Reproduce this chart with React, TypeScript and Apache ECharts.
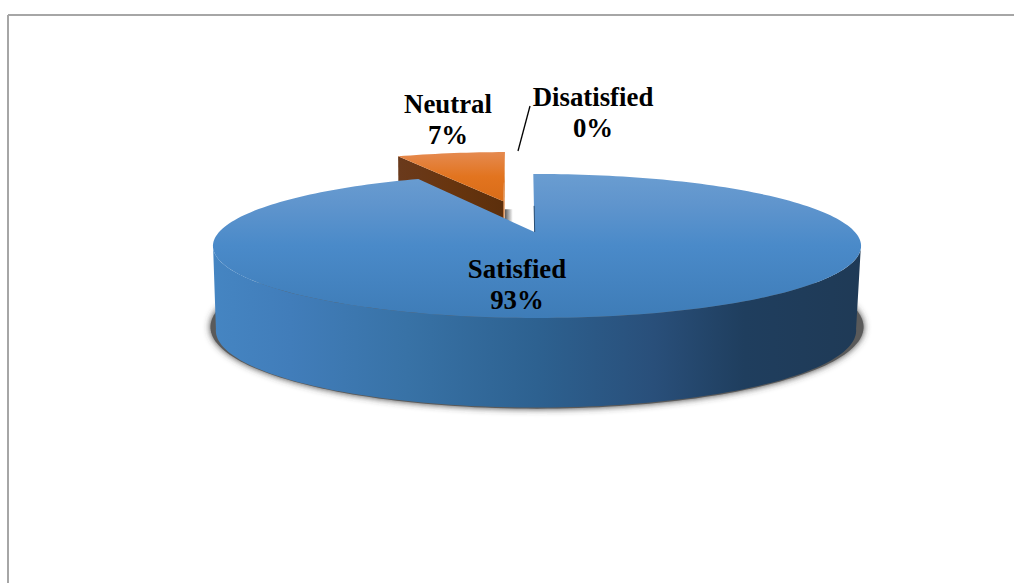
import React, { useEffect, useRef } from "react";
import * as echarts from "echarts";

// Slices, clockwise from the top of the disc.
const categories = ["Satisfied", "Neutral", "Disatisfied"];
const shares = [93, 7, 0];

const labelPositions = [
  { x: 517, y: 284 },
  { x: 448, y: 119 },
  { x: 593, y: 112 },
];
const leader = { x1: 530, y1: 106, x2: 518, y2: 151 };

// Perspective of the disc: pivot on the page and the projective terms of its plane.
const PIVOT_X = 537;
const PIVOT_Y = 232;
const SCALE_X = 317.9;
const SCALE_Y = 69.3;
const TILT = -0.194;
const ROTATION = -0.8;
const PIVOT_U = -0.008;
const EXPLODE = 0.5;
const BOTTOM_X = 536;
const BOTTOM_Y = 330.5;
const BOTTOM_SX = 0.988;
const BOTTOM_SY = 1.07;
const ELLIPSE_MID = 14;

const total = shares.reduce((a, b) => a + b, 0);
const sliceStart = (i: number) =>
  ROTATION + (shares.slice(0, i).reduce((a, b) => a + b, 0) / total) * 360;
const sliceEnd = (i: number) => sliceStart(i) + (shares[i] / total) * 360;

type Pt = [number, number];

// Disc-plane coordinates to page coordinates, on the top face.
const project = (u: number, v: number): Pt => {
  const w = 1 + TILT * v;
  return [PIVOT_X + (SCALE_X * u) / w, PIVOT_Y + (SCALE_Y * v) / w];
};

// The same point on the lower rim of the wall.
const projectLow = (u: number, v: number): Pt => {
  const [x, y] = project(u, v);
  return [
    BOTTOM_X + BOTTOM_SX * (x - PIVOT_X),
    BOTTOM_Y + BOTTOM_SY * (y - PIVOT_Y - ELLIPSE_MID),
  ];
};

const rim = (deg: number, du = 0, dv = 0, fn = project): Pt => {
  const r = (deg * Math.PI) / 180;
  return fn(Math.sin(r) + du, -Math.cos(r) + dv);
};

const arc = (from: number, to: number, du = 0, dv = 0, fn = project): Pt[] => {
  const n = Math.max(2, Math.ceil(Math.abs(to - from) / 1.5));
  const pts: Pt[] = [];
  for (let i = 0; i <= n; i++) pts.push(rim(from + ((to - from) * i) / n, du, dv, fn));
  return pts;
};

const vertical = (stops: [number, string][]) => ({
  type: "linear" as const, x: 0, y: 0, x2: 0, y2: 1, global: false,
  colorStops: stops.map(([offset, color]) => ({ offset, color })),
});
const horizontal = (stops: [number, string][]) => ({
  type: "linear" as const, x: 0, y: 0, x2: 1, y2: 0, global: false,
  colorStops: stops.map(([offset, color]) => ({ offset, color })),
});

const poly = (points: Pt[], style: Record<string, unknown>) => ({
  type: "polygon", shape: { points }, style,
});

const labelFor = (i: number) => ({
  type: "text",
  z2: 20,
  style: {
    text: `${categories[i]}\n${shares[i]}%`,
    x: labelPositions[i].x,
    y: labelPositions[i].y,
    align: "center",
    verticalAlign: "middle",
    fontFamily: "'Liberation Serif', serif",
    fontWeight: "bold",
    fontSize: 26.8,
    lineHeight: 31,
    fill: "#000000",
  },
});

const drawSatisfied = (i: number) => {
  const a0 = sliceStart(i);
  const a1 = sliceEnd(i);
  const apex = project(PIVOT_U, 0);
  const start = rim(a0);
  // Cast shadow: a core kept just inside its outline, its soft blur showing round the rim.
  const shadow = arc(0, 360, 0, 0, (u, v) => {
    const [x, y] = projectLow(u, v);
    return [PIVOT_X + (x - BOTTOM_X) * 1.02, 327 + (y - BOTTOM_Y) * 1.06] as Pt;
  });
  const wall = [...arc(100, 260), ...arc(260, 100, 0, 0, projectLow)];
  const notch: Pt[] = [
    [apex[0] + 0.2, apex[1]],
    [apex[0] + (start[0] - apex[0]) * 0.45 + 0.2, apex[1] + (start[1] - apex[1]) * 0.45],
  ];
  return [
    poly(shadow, { fill: "#5a5a5a", shadowBlur: 7, shadowColor: "#3a3a3a" }),
    poly(wall, {
      fill: horizontal([
        [0, "#4585c2"],
        [0.12, "#417dba"],
        [0.3, "#3872a6"],
        [0.5, "#2d6190"],
        [0.68, "#294f7a"],
        [0.82, "#1f3e5e"],
        [1, "#1f3a56"],
      ]),
    }),
    poly([apex, ...arc(a0, a1)], {
      fill: vertical([
        [0, "#6a9dd1"],
        [0.2, "#6095cd"],
        [0.5, "#4a8ac9"],
        [1, "#3e7cb7"],
      ]),
    }),
    { type: "polyline", shape: { points: notch }, style: { stroke: "#2a4f75", lineWidth: 1, fill: "none" } },
    labelFor(i),
  ];
};

const drawNeutral = (i: number) => {
  const a0 = sliceStart(i);
  const a1 = sliceEnd(i);
  const mid = (((a0 + a1) / 2) * Math.PI) / 180;
  const du = EXPLODE * Math.sin(mid);
  const dv = -EXPLODE * Math.cos(mid);
  const apex = project(du, dv);
  const apexLow = projectLow(du, dv);
  const outerA = rim(a0, du, dv);
  const outerALow = rim(a0, du, dv, projectLow);
  const outerB = rim(a1, du, dv);
  const outerBLow = rim(a1, du, dv, projectLow);
  return [
    {
      type: "rect",
      shape: { x: apex[0] + 1.5, y: apex[1] + 8, width: 8, height: 16 },
      style: { fill: horizontal([[0, "#5a5a5a"], [1, "#ffffff"]]) },
    },
    poly([apex, outerB, outerBLow, apexLow], { fill: "#d8701f" }),
    poly([apex, outerA, outerALow, apexLow], {
      fill: horizontal([[0, "#6a3a1c"], [0.5, "#68350f"], [1, "#5c2f0c"]]),
    }),
    poly([apex, ...arc(a0, a1, du, dv)], {
      fill: vertical([[0, "#e58a50"], [0.5, "#e2741f"], [1, "#d96c18"]]),
    }),
    labelFor(i),
  ];
};

const drawEmpty = (i: number) => [
  { type: "line", shape: leader, style: { stroke: "#000000", lineWidth: 1.3 } },
  labelFor(i),
];

const painters = [drawSatisfied, drawNeutral, drawEmpty];
// Back slices are painted first so the main slice overlaps them.
const paintOrder = [2, 1, 0];

export default function App() {
  const ref = useRef<HTMLDivElement>(null);
  useEffect(() => {
    if (!ref.current) return;
    const chart = echarts.init(ref.current, undefined, { renderer: "svg" });
    chart.setOption({
      animation: false,
      backgroundColor: "#ffffff",
      graphic: [
        { type: "line", silent: true, shape: { x1: 8, y1: 15, x2: 1014, y2: 15 }, style: { stroke: "#a6a6a6", lineWidth: 2 } },
        { type: "line", silent: true, shape: { x1: 8, y1: 15, x2: 8, y2: 583 }, style: { stroke: "#a6a6a6", lineWidth: 2 } },
      ],
      series: [
        {
          type: "custom",
          coordinateSystem: "none",
          silent: true,
          clip: false,
          data: paintOrder.map((i) => ({ name: categories[i], value: [shares[i], i] })),
          renderItem: (_params: unknown, api: { value: (d: number) => number }) => {
            const i = api.value(1);
            return { type: "group", children: painters[i](i) };
          },
        },
      ],
    });
    return () => chart.dispose();
  }, []);
  return <div ref={ref} style={{ position: "fixed", left: 0, top: 0, width: 1014, height: 583 }} />;
}
